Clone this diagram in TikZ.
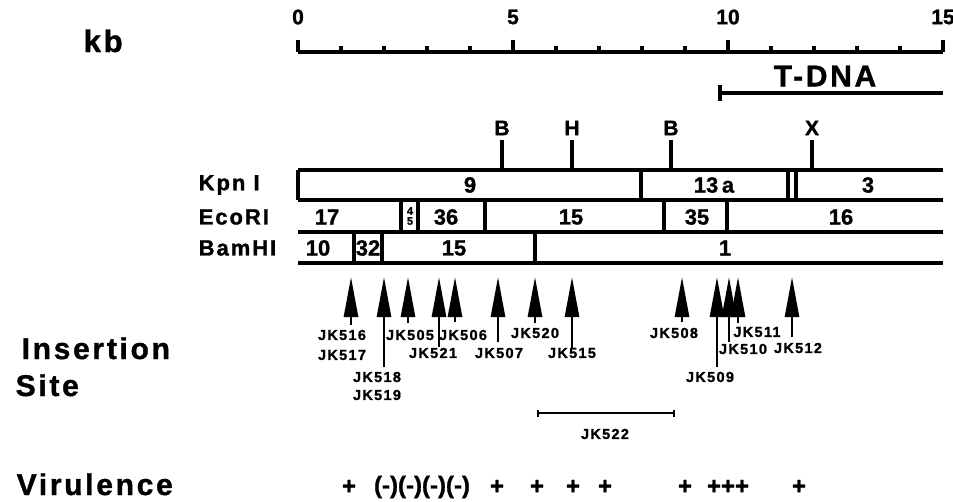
\documentclass[tikz,border=0pt]{standalone}
\usepackage{fontspec}
\setmainfont{Liberation Sans}[BoldFont={Liberation Sans Bold}]
\newfontfamily\widefont{Liberation Sans Bold}[LetterSpace=9, FakeBold=1.2]
\newfontfamily\plainbold{Liberation Sans Bold}[FakeBold=1.2]
\usetikzlibrary{arrows.meta}

\begin{document}
\begin{tikzpicture}[x=1pt, y=-1pt, line width=3.4pt,
  big/.style={font=\widefont\fontsize{30}{30}\selectfont, anchor=base west, inner sep=0pt},
  rowlab/.style={font=\widefont\fontsize{22}{22}\selectfont, anchor=west, inner sep=0pt},
  num/.style={font=\plainbold\fontsize{22}{22}\selectfont, inner sep=0pt},
  site/.style={font=\plainbold\fontsize{21}{21}\selectfont, inner sep=0pt},
  jk/.style={font=\widefont\fontsize{14.5}{14.5}\selectfont, inner sep=0pt},
  vir/.style={font=\plainbold\fontsize{24}{24}\selectfont, inner sep=0pt},
  ins/.style={line width=2.6pt, -{Triangle[length=40pt,width=14pt]}}]
  \useasboundingbox (0,0) rectangle (953,501);
  % left titles
  \node[big, font=\widefont\fontsize{31}{31}\selectfont] (kb) at (82,52) {kb};
  \node[big] (insertion) at (20,359) {Insertion};
  \node[big] (site) at (14,396) {Site};
  \node[big] (virulence) at (15,495) {Virulence};
  % kb scale
  \draw (298,52) -- (943,52);
  \foreach \k in {0,...,15} \draw ({298+43*\k},52) -- ++(0,-6);
  \foreach \k in {0,5,10,15} {
    \draw ({298+43*\k},52) -- ++(0,-12);
    \node[site] (kb\k) at ({298+43*\k},17) {\k};
  }
  % T-DNA
  \draw (720,93) -- (943,93);
  \draw (720,85) -- (720,101);
  \node[big, anchor=center] (tdna) at (825,76) {T-DNA};
  % sites
  \foreach \x/\s [count=\i] in {502/B,572/H,671/B,812/X} {
    \node[site] (s\i) at (\x,128) {\s};
    \draw (\x,140) -- (\x,170);
  }
  % maps
  \foreach \y in {170,200,232,263} \draw (298,\y) -- (943,\y);
  \draw (298,170) -- (298,200);
  \foreach \x in {641,788,796} \draw (\x,170) -- (\x,200);
  \foreach \x in {401,418,485,664,727} \draw (\x,200) -- (\x,232);
  \foreach \x in {535} \draw (\x,232) -- (\x,263);
  \draw[line width=4.2pt] (354,232) -- (354,263) (382,232) -- (382,263);
  \node[rowlab] (kpn) at (197,185) {Kpn I};
  \node[rowlab] (eco) at (197,217) {EcoRI};
  \node[rowlab] (bam) at (197,248) {BamHI};
  \foreach \t/\x [count=\i] in {9/470,13\,a/714,3/868}
    \node[num] (k\i) at (\x,185) {\t};
  \foreach \t/\x [count=\i] in {17/327,36/446,15/571,35/697,16/841}
    \node[num] (e\i) at (\x,217) {\t};
  \node[font=\plainbold\fontsize{11}{11}\selectfont, align=center, inner sep=0pt] (e45) at (410,216) {4\\[-1pt]5};
  \foreach \t/\x [count=\i] in {10/318,32/368,15/454,1/725}
    \node[num] (b\i) at (\x,248) {\t};
  % insertions
  \foreach \x/\y [count=\i] in {351/325,384/367,408/323,439/347,455/322,498/342,535/323,
      572/348,682/322,717/367,729/342,738/323,792/337}
    \draw[ins] (\x,\y) coordinate (a\i) -- (\x,277) coordinate (h\i);
  \foreach \t/\x/\y in {JK516/342/335,JK517/342/355,JK518/377/377,JK519/377/395,
      JK505/410/335,JK506/463/335,JK521/433/353,JK507/499/353,JK520/535/333,
      JK515/572/353,JK508/674/333,JK509/710/377,JK510/743/349,JK511/757/332,JK512/798/348}
    \node[jk] (\t) at (\x,\y) {\t};
  \draw[line width=1.8pt, {Bar[width=7pt]}-{Bar[width=7pt]}] (537,413) coordinate (d1) -- (675,413) coordinate (d2);
  \node[jk] (JK522) at (605,434) {JK522};
  % virulence
  \foreach \t/\x [count=\i] in {+/349,(-)(-)(-)(-)/422,+/497,+/537,+/573,+/605,+/685,+++/728,+/799}
    \node[vir] (v\i) at (\x,487) {\t};
\end{tikzpicture}
\end{document}
